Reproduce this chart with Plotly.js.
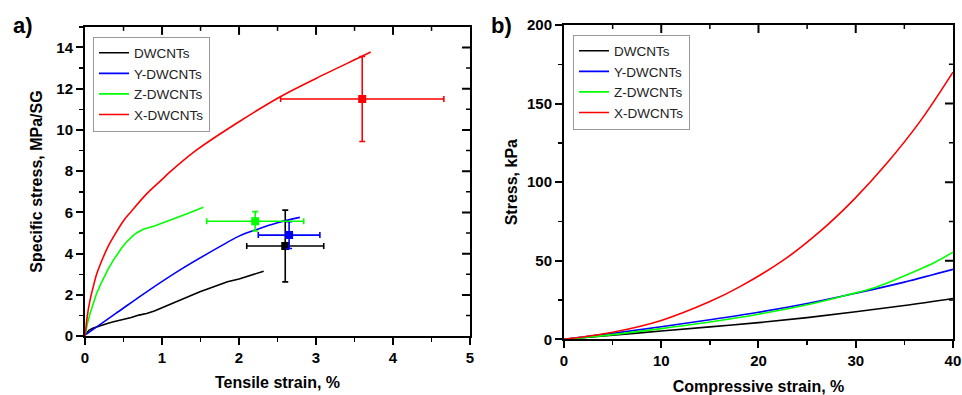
<!DOCTYPE html>
<html>
<head>
<meta charset="utf-8">
<script src="https://cdn.plot.ly/plotly-3.0.1.min.js"></script>
<style>html,body{margin:0;padding:0;background:#fff;}#chart{width:962px;height:395px;}</style>
</head>
<body>
<div id="chart"></div>
<script>
// ---------- Panel a) tensile curves ----------
const seriesNames = ['DWCNTs', 'Y-DWCNTs', 'Z-DWCNTs', 'X-DWCNTs'];
const seriesColors = ['#000000', '#0000FF', '#00FF00', '#FF0000'];

const tensStrainDW = [0, 0.05, 0.1, 0.2, 0.3, 0.37, 0.5, 0.6, 0.7, 0.8, 0.9, 1.0, 1.1, 1.23, 1.35, 1.5, 1.6, 1.75, 1.85, 2.0, 2.1, 2.2, 2.32];
const tensStressDW = [0.05, 0.28, 0.38, 0.52, 0.63, 0.7, 0.8, 0.9, 1.02, 1.1, 1.22, 1.38, 1.55, 1.75, 1.95, 2.17, 2.3, 2.5, 2.64, 2.77, 2.88, 3.0, 3.15];

const tensStrainY = [0, 0.4, 0.8, 1.25, 1.75, 2.0, 2.25, 2.5, 2.79];
const tensStressY = [0.05, 1.1, 2.15, 3.25, 4.34, 4.85, 5.2, 5.5, 5.76];

const tensStrainZ = [0, 0.03, 0.065, 0.1, 0.15, 0.2, 0.25, 0.3, 0.368, 0.43, 0.48, 0.53, 0.58, 0.63, 0.68, 0.72, 0.758, 0.9, 1.06, 1.3, 1.537];
const tensStressZ = [0, 0.6, 1.1, 1.55, 2.07, 2.5, 2.9, 3.25, 3.69, 4.05, 4.3, 4.53, 4.74, 4.9, 5.03, 5.11, 5.18, 5.34, 5.55, 5.9, 6.25];

const tensStrainX = [0, 0.03, 0.065, 0.1, 0.15, 0.2, 0.3, 0.37, 0.5, 0.6, 0.8, 1.0, 1.1, 1.45, 2.0, 2.53, 3.0, 3.59, 3.71];
const tensStressX = [0, 1.0, 1.75, 2.3, 3.0, 3.5, 4.35, 4.82, 5.6, 6.05, 6.9, 7.6, 7.95, 9.03, 10.4, 11.6, 12.5, 13.56, 13.78];

// mean points with error bars (DW, Y, Z, X)
const meanStrain = [2.6, 2.65, 2.21, 3.6];
const meanStress = [4.37, 4.9, 5.57, 11.5];
const errStrain = [0.5, 0.4, 0.63, 1.06];
const errStress = [1.74, 0.65, 0.47, 2.06];

// ---------- Panel b) compressive curves ----------
const compStrainDW = [0, 5, 10, 15, 20, 25, 30, 35, 40];
const compStressDW = [0, 2.6, 5.3, 7.9, 10.6, 13.8, 17.5, 21.5, 26];
const compStrainY = [0, 5, 10, 15, 20, 25, 30, 35, 40];
const compStressY = [0, 3.8, 8, 12.4, 17.2, 22.8, 29.3, 36.4, 44.5];
const compStrainZ = [0, 5, 10, 15, 20, 25, 29, 32, 36, 38, 40];
const compStressZ = [0, 3, 6.8, 11, 16, 22, 28, 33, 43, 48.5, 55.5];
const compStrainX = [0, 5, 10, 15, 18.1, 22.6, 26.3, 29.75, 33.2, 36.6, 40];
const compStressX = [0, 4.5, 12, 24, 33.5, 50.5, 68.5, 88.6, 112, 138.5, 170];

// axis ranges and tick steps
const rangeXa = [0, 5], rangeYa = [0, 15], rangeXb = [0, 40], rangeYb = [0, 200];
const stepXa = 1, stepYa = 2, stepXb = 10, stepYb = 50;

const FONT = 'Liberation Sans, Arial, sans-serif';
const LW = 1.6;

const tensX = [tensStrainDW, tensStrainY, tensStrainZ, tensStrainX];
const tensY = [tensStressDW, tensStressY, tensStressZ, tensStressX];
const tensShape = ['linear', 'spline', 'linear', 'spline'];
const compX = [compStrainDW, compStrainY, compStrainZ, compStrainX];
const compY = [compStressDW, compStressY, compStressZ, compStressX];

const traces = [];
for (let i = 0; i < 4; i++) {
  traces.push({
    x: tensX[i], y: tensY[i], type: 'scatter', mode: 'lines', name: seriesNames[i],
    line: {color: seriesColors[i], width: LW, shape: tensShape[i]}, xaxis: 'x', yaxis: 'y', legend: 'legend'
  });
}
for (let i = 0; i < 4; i++) {
  traces.push({
    x: [meanStrain[i]], y: [meanStress[i]], type: 'scatter', mode: 'markers', showlegend: false,
    marker: {symbol: 'square', size: 8, color: seriesColors[i]},
    error_x: {type: 'data', array: [errStrain[i]], color: seriesColors[i], thickness: 1.6, width: 3},
    error_y: {type: 'data', array: [errStress[i]], color: seriesColors[i], thickness: 1.6, width: 3},
    xaxis: 'x', yaxis: 'y'
  });
}
for (let i = 0; i < 4; i++) {
  traces.push({
    x: compX[i], y: compY[i], type: 'scatter', mode: 'lines', name: seriesNames[i],
    line: {color: seriesColors[i], width: LW, shape: 'spline'},
    xaxis: 'x2', yaxis: 'y2', legend: 'legend2'
  });
}

const tickFont = {family: FONT, size: 15, color: '#000', weight: 'bold'};
const titleFont = {family: FONT, size: 16, color: '#000', weight: 'bold'};

function mainAxis(o) {
  return Object.assign({
    showgrid: false, zeroline: false, showline: true, linecolor: '#000', linewidth: 2, mirror: true,
    ticks: 'outside', ticklen: 7, tickwidth: 2, tickcolor: '#000', tickfont: tickFont,
    fixedrange: true
  }, o);
}
const domXa = [0.0884, 0.4886], domYa = [0.149, 0.932];
const domXb = [0.5863, 0.9906], domYb = [0.141, 0.9367];
const W = 962, H = 395;

// inward-pointing tick marks on the top and right frame edges (Origin style)
const shapes = [];
function innerTicks(xref, yref, rx, ry, sx, sy, dx, dy) {
  const wPx = (dx[1] - dx[0]) * W, hPx = (dy[1] - dy[0]) * H;
  for (let k = 1; rx[0] + k * sx / 2 < rx[1] - 1e-9; k++) {
    const v = rx[0] + k * sx / 2, major = k % 2 === 0, len = major ? 8 : 4;
    shapes.push({type: 'line', layer: 'above', xref: xref, yref: yref + ' domain', x0: v, x1: v, y0: 1, y1: 1 - len / hPx,
      line: {color: '#000', width: major ? 2 : 1.5}});
  }
  for (let k = 1; ry[0] + k * sy / 2 < ry[1] - 1e-9; k++) {
    const v = ry[0] + k * sy / 2, major = k % 2 === 0, len = major ? 8 : 4;
    shapes.push({type: 'line', layer: 'above', xref: xref + ' domain', yref: yref, x0: 1, x1: 1 - len / wPx, y0: v, y1: v,
      line: {color: '#000', width: major ? 2 : 1.5}});
  }
}
innerTicks('x', 'y', rangeXa, rangeYa, stepXa, stepYa, domXa, domYa);
innerTicks('x2', 'y2', rangeXb, rangeYb, stepXb, stepYb, domXb, domYb);

const layout = {
  width: W, height: H,
  margin: {l: 0, r: 0, t: 0, b: 0},
  paper_bgcolor: '#fff', plot_bgcolor: '#fff',
  font: {family: FONT, color: '#000'},
  xaxis: mainAxis({domain: domXa, range: rangeXa, dtick: stepXa, anchor: 'y',
    minor: {dtick: stepXa / 2, ticks: 'outside', ticklen: 4, tickwidth: 1.5, tickcolor: '#000'},
    title: {text: 'Tensile strain, %', font: titleFont, standoff: 12}}),
  yaxis: mainAxis({domain: domYa, range: rangeYa, dtick: stepYa, anchor: 'x',
    minor: {dtick: stepYa / 2, ticks: 'outside', ticklen: 4, tickwidth: 1.5, tickcolor: '#000'},
    title: {text: 'Specific stress, MPa/SG', font: titleFont, standoff: 10}}),
  xaxis2: mainAxis({domain: domXb, range: rangeXb, dtick: stepXb, anchor: 'y2',
    minor: {dtick: stepXb / 2, ticks: 'outside', ticklen: 4, tickwidth: 1.5, tickcolor: '#000'},
    title: {text: 'Compressive strain, %', font: titleFont, standoff: 12}}),
  yaxis2: mainAxis({domain: domYb, range: rangeYb, dtick: stepYb, anchor: 'x2',
    minor: {dtick: stepYb / 2, ticks: 'outside', ticklen: 4, tickwidth: 1.5, tickcolor: '#000'},
    title: {text: 'Stress, kPa', font: titleFont, standoff: 5}}),
  legend: {x: 93 / W, y: 1 - 36.5 / H, xanchor: 'left', yanchor: 'top', bgcolor: '#fff',
    bordercolor: '#999', borderwidth: 1, font: {family: FONT, size: 13.5, color: '#222'},
    tracegroupgap: 0, itemwidth: 30},
  legend2: {x: 573 / W, y: 1 - 34.5 / H, xanchor: 'left', yanchor: 'top', bgcolor: '#fff',
    bordercolor: '#999', borderwidth: 1, font: {family: FONT, size: 13.5, color: '#222'},
    tracegroupgap: 0, itemwidth: 30},
  shapes: shapes,
  annotations: [
    {text: 'a)', xref: 'paper', yref: 'paper', x: 23 / W, y: 1 - 25 / H, xanchor: 'center', yanchor: 'middle',
      showarrow: false, font: {family: FONT, size: 22, color: '#000', weight: 'bold'}},
    {text: 'b)', xref: 'paper', yref: 'paper', x: 501 / W, y: 1 - 25 / H, xanchor: 'center', yanchor: 'middle',
      showarrow: false, font: {family: FONT, size: 22, color: '#000', weight: 'bold'}}
  ],
  showlegend: true
};

Plotly.newPlot('chart', traces, layout, {displayModeBar: false, staticPlot: true});
</script>
</body>
</html>
